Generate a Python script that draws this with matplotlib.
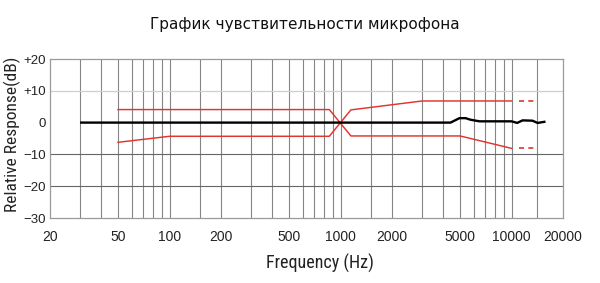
import matplotlib
matplotlib.use("Agg")
import matplotlib.pyplot as plt
from matplotlib.ticker import FixedLocator, FixedFormatter, NullLocator

# measured response (black) and tolerance limits (red)
resp_freq = [30, 4400, 4960, 5380, 5760, 6500, 10000, 10800, 11600, 13260, 14200, 15800]
resp_db = [0.0, 0.0, 1.4, 1.4, 0.9, 0.4, 0.4, -0.1, 0.7, 0.6, -0.1, 0.3]

lim_a_freq = [50, 860, 1150, 5000, 10000]
lim_a_db = [4.1, 4.1, -4.2, -4.2, -8.1]
lim_b_freq = [50, 100, 860, 1150, 3000, 10000]
lim_b_db = [-6.2, -4.3, -4.3, 4.0, 6.8, 6.8]
dash_freq = [11100, 13500]
dash_upper = [6.8, 6.8]
dash_lower = [-8.1, -8.1]

xtick_vals = [20, 50, 100, 200, 500, 1000, 2000, 5000, 10000, 20000]
xtick_text = ["20", "50", "100", "200", "500", "1000", "2000", "5000", "10000", "20000"]
ytick_vals = [20, 10, 0, -10, -20, -30]
ytick_text = ["+20", "+10", "0", "\u221210", "\u221220", "\u221230"]
vgrid = [30, 40, 50, 60, 70, 80, 90, 100, 150, 200, 300, 400, 500, 600, 700, 800, 900,
         1000, 1500, 2000, 3000, 4000, 5000, 6000, 7000, 8000, 9000, 10000, 14000]

RED = "#e0342c"
SANS = ["Liberation Sans", "DejaVu Sans"]
NARROW = ["Roboto Condensed", "Liberation Sans", "DejaVu Sans"]

fig = plt.figure(figsize=(6.0, 2.83), dpi=100)
ax = fig.add_axes([50 / 600, 1 - 218 / 283, 513 / 600, 159 / 283])
ax.set_xscale("log")
ax.set_xlim(20, 20000)
ax.set_ylim(-30, 20)

for f in vgrid:
    ax.axvline(f, color="#858585", linewidth=0.8, zorder=1)
ax.axhline(10, color="#cfcfcf", linewidth=0.9, zorder=1)
for level in (-10, -20):
    ax.axhline(level, color="#666666", linewidth=0.8, zorder=1)

ax.plot(lim_a_freq, lim_a_db, color=RED, linewidth=1.05, zorder=3)
ax.plot(lim_b_freq, lim_b_db, color=RED, linewidth=1.05, zorder=3)
ax.plot(dash_freq, dash_upper, color=RED, linewidth=1.2, linestyle=(0, (3.0, 2.6)), zorder=3)
ax.plot(dash_freq, dash_lower, color=RED, linewidth=1.2, linestyle=(0, (3.0, 2.6)), zorder=3)
ax.plot(resp_freq, resp_db, color="black", linewidth=1.7, zorder=4,
        solid_capstyle="butt", solid_joinstyle="round")

ax.xaxis.set_major_locator(FixedLocator(xtick_vals))
ax.xaxis.set_major_formatter(FixedFormatter(xtick_text))
ax.xaxis.set_minor_locator(NullLocator())
ax.yaxis.set_major_locator(FixedLocator(ytick_vals))
ax.yaxis.set_major_formatter(FixedFormatter(ytick_text))
ax.tick_params(axis="x", length=0, pad=8.5, labelsize=10, labelcolor="#222222")
ax.tick_params(axis="y", length=0, pad=3.0, labelsize=9.5, labelcolor="#222222")
for label in ax.get_xticklabels() + ax.get_yticklabels():
    label.set_family(SANS)
for spine in ax.spines.values():
    spine.set_color("#9a9a9a")
    spine.set_linewidth(0.9)

fig.text(305 / 600, 1 - 25 / 283, "График чувствительности микрофона",
         ha="center", va="center", fontsize=11, color="#111111", family="DejaVu Sans")
fig.text(320 / 600, 1 - 263 / 283, "Frequency (Hz)", ha="center", va="center",
         fontsize=13, color="#222222", family=NARROW)
fig.text(12 / 600, 1 - 134 / 283, "Relative Response(dB)", ha="center", va="center",
         rotation=90, fontsize=12.5, color="#222222", family=NARROW)

fig.savefig("out.png", dpi=100)
